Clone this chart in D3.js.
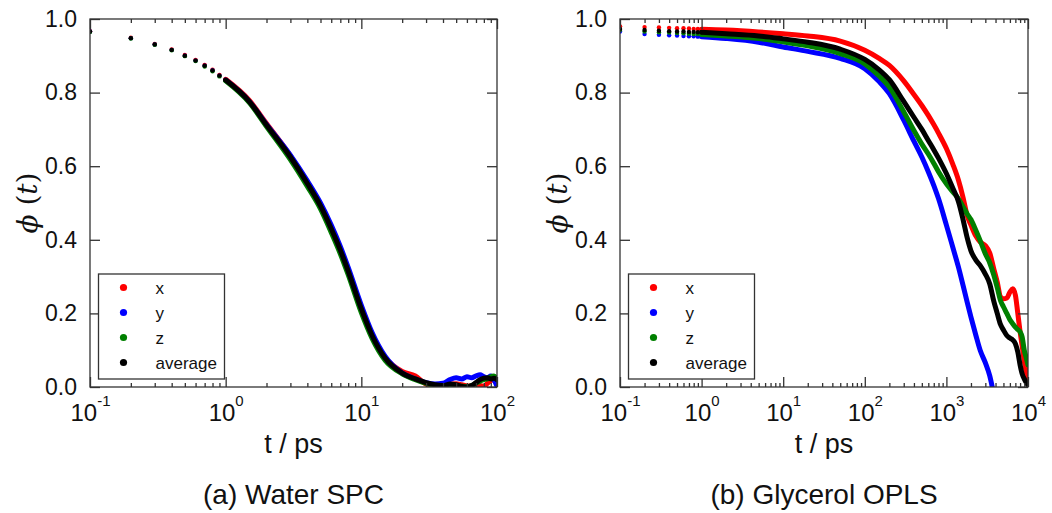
<!DOCTYPE html>
<html>
<head>
<meta charset="utf-8">
<script src="https://cdnjs.cloudflare.com/ajax/libs/d3/7.8.5/d3.min.js"></script>
<style>
body { margin: 0; background: #fff; }
svg text { font-family: "Liberation Sans", Arial, sans-serif; fill: #111; }
</style>
</head>
<body>
<svg id="chart" width="1052" height="513"></svg>
<script>
// series in legend order
let seriesNames = ['x', 'y', 'z', 'average'];
let seriesColors = ['#ff0000', '#0000ff', '#008000', '#000000'];

// (a) water SPC, time in ps
let waterT = [0.1,0.2,0.3,0.4,0.5,0.6,0.7,0.8,0.9,1.0,1.5,2,3,4,5,6,7,8,10,12,15,20,25,30,35,40,45,50,55,60,65,70,75,80,85,90,95,100];
let waterX = [0.967,0.949,0.932,0.917,0.902,0.889,0.875,0.862,0.848,0.836,0.778,0.716,0.628,0.555,0.493,0.431,0.372,0.314,0.210,0.139,0.080,0.042,0.030,0.008,0.004,0.006,0.008,0.009,0.006,0.003,0.002,0.000,0.004,0.002,0.010,0.018,0.020,0.015];
let waterY = [0.966,0.948,0.931,0.916,0.900,0.887,0.873,0.860,0.846,0.834,0.775,0.713,0.630,0.560,0.500,0.440,0.382,0.325,0.222,0.148,0.083,0.038,0.022,0.012,0.008,0.010,0.020,0.025,0.022,0.028,0.025,0.030,0.033,0.028,0.025,0.030,0.020,0.002];
let waterZ = [0.965,0.947,0.930,0.915,0.899,0.886,0.871,0.858,0.844,0.832,0.772,0.708,0.618,0.545,0.484,0.420,0.362,0.305,0.202,0.132,0.072,0.036,0.020,0.010,0.004,0.003,0.004,0.004,0.002,0.001,0.004,0.010,0.016,0.020,0.022,0.028,0.030,0.022];
let waterAvg = [0.966,0.948,0.931,0.916,0.900,0.887,0.873,0.860,0.846,0.834,0.775,0.712,0.625,0.553,0.492,0.430,0.372,0.315,0.212,0.140,0.078,0.038,0.022,0.012,0.006,0.004,0.008,0.006,0.002,0.000,0.004,0.012,0.020,0.024,0.025,0.022,0.024,0.020];

// (b) glycerol OPLS
let glyT = [0.1,0.2,0.3,0.4,0.5,0.6,0.7,0.8,0.9,1,2,5,10,20,50,100,150,200,300,400,500,600,700,800,1000,1200,1400,1600,1800,2000,2300,2600,3000,3400,3800,4200,4600,5000,5500,6000,6500,7000,7500,8000,8500,9000,9500,10000];
let glyX = [0.980,0.978,0.977,0.976,0.975,0.975,0.974,0.973,0.973,0.972,0.970,0.965,0.960,0.954,0.940,0.915,0.893,0.874,0.832,0.795,0.765,0.738,0.713,0.690,0.648,0.605,0.563,0.515,0.465,0.440,0.410,0.394,0.384,0.364,0.322,0.285,0.245,0.240,0.242,0.258,0.267,0.250,0.200,0.150,0.110,0.070,0.040,0.010];
let glyY = [0.966,0.959,0.957,0.956,0.955,0.954,0.953,0.953,0.952,0.952,0.947,0.937,0.924,0.912,0.893,0.865,0.830,0.797,0.725,0.668,0.625,0.585,0.548,0.512,0.440,0.379,0.327,0.276,0.230,0.190,0.140,0.099,0.066,0.030,-0.020,null,null,null,null,null,null,null,null,null,null,null,null,null];
let glyZ = [0.970,0.966,0.964,0.963,0.962,0.961,0.960,0.959,0.959,0.958,0.954,0.947,0.938,0.927,0.906,0.878,0.845,0.815,0.748,0.697,0.660,0.633,0.608,0.585,0.552,0.530,0.512,0.490,0.470,0.455,0.425,0.397,0.362,0.337,0.305,0.270,0.235,0.218,0.200,0.183,0.172,0.163,0.156,0.150,0.135,0.100,0.080,0.060];
let glyAvg = [0.973,0.970,0.968,0.967,0.966,0.966,0.965,0.965,0.964,0.964,0.960,0.954,0.946,0.937,0.918,0.890,0.862,0.835,0.776,0.733,0.700,0.670,0.645,0.622,0.580,0.540,0.505,0.455,0.405,0.370,0.345,0.330,0.307,0.280,0.234,0.200,0.170,0.155,0.140,0.133,0.128,0.118,0.095,0.060,0.035,0.022,0.012,0.005];

let yTicks = [0, 0.2, 0.4, 0.6, 0.8, 1.0];

let svg = d3.select('#chart');
let plotTop = 19, plotBottom = 387;
let axisColor = '#333';

function drawPanel(p) {
    let x = d3.scaleLog().domain(p.xDomain).range([p.left, p.right]);
    let y = d3.scaleLinear().domain([0, 1]).range([plotBottom, plotTop]);
    let g = svg.append('g');

    let e0 = Math.round(Math.log10(p.xDomain[0])), e1 = Math.round(Math.log10(p.xDomain[1]));
    let decades = d3.range(e0, e1 + 1).map(e => Math.pow(10, e));
    let minors = [];
    d3.range(e0, e1).forEach(e => {
        for (let k = 2; k <= 9; k++) minors.push(k * Math.pow(10, e));
    });

    // data, clipped to the frame
    let clipId = 'clip-' + p.id;
    svg.append('clipPath').attr('id', clipId)
        .append('rect')
        .attr('x', p.left).attr('y', plotTop)
        .attr('width', p.right - p.left).attr('height', plotBottom - plotTop);
    let plot = g.append('g').attr('clip-path', `url(#${clipId})`);

    let line = d3.line()
        .defined(d => d[1] != null)
        .x(d => x(d[0]))
        .y(d => y(d[1]))
        .curve(d3.curveMonotoneX);

    p.series.forEach((vals, i) => {
        let pts = p.t.map((t, j) => [t, vals[j]]);
        // early samples are resolved as separate dots
        plot.append('g')
            .selectAll('circle')
            .data(pts.filter(d => d[0] <= 1 && d[1] != null))
            .enter().append('circle')
            .attr('cx', d => x(d[0]))
            .attr('cy', d => y(d[1]))
            .attr('r', 2.2)
            .attr('fill', seriesColors[i]);
        // later samples merge into a thick band
        plot.append('path')
            .datum(pts.filter(d => d[0] >= 1))
            .attr('d', line)
            .attr('fill', 'none')
            .attr('stroke', seriesColors[i])
            .attr('stroke-width', 5)
            .attr('stroke-linecap', 'round')
            .attr('stroke-linejoin', 'round');
    });

    // axes, ticks pointing inward on all four sides
    let style = sel => {
        sel.select('.domain').remove();
        sel.selectAll('.tick line').attr('stroke', axisColor).attr('stroke-width', 1.3);
    };

    let xb = g.append('g')
        .attr('transform', `translate(0, ${plotBottom})`)
        .call(d3.axisBottom(x).tickValues(decades).tickSizeInner(-10).tickSizeOuter(0).tickFormat(''))
        .call(style);
    xb.selectAll('.tick').each(function(d) {
        let t = d3.select(this).append('text')
            .attr('y', 34)
            .attr('text-anchor', 'middle')
            .attr('font-size', 24)
            .attr('fill', '#111');
        t.append('tspan').text('10');
        t.append('tspan')
            .attr('dy', -15)
            .attr('font-size', 15)
            .text(Math.round(Math.log10(d)));
    });
    g.append('g')
        .attr('transform', `translate(0, ${plotBottom})`)
        .call(d3.axisBottom(x).tickValues(minors).tickSizeInner(-4).tickSizeOuter(0).tickFormat(''))
        .call(style);
    g.append('g')
        .attr('transform', `translate(0, ${plotTop})`)
        .call(d3.axisTop(x).tickValues(decades).tickSizeInner(-10).tickSizeOuter(0).tickFormat(''))
        .call(style);
    g.append('g')
        .attr('transform', `translate(0, ${plotTop})`)
        .call(d3.axisTop(x).tickValues(minors).tickSizeInner(-4).tickSizeOuter(0).tickFormat(''))
        .call(style);

    let yl = g.append('g')
        .attr('transform', `translate(${p.left}, 0)`)
        .call(d3.axisLeft(y).tickValues(yTicks).tickSizeInner(-10).tickSizeOuter(0).tickPadding(13).tickFormat(d3.format('.1f')))
        .call(style);
    yl.attr('font-size', 23).attr('font-family', null);
    yl.selectAll('text').attr('fill', '#111');
    g.append('g')
        .attr('transform', `translate(${p.right}, 0)`)
        .call(d3.axisRight(y).tickValues(yTicks).tickSizeInner(-10).tickSizeOuter(0).tickFormat(''))
        .call(style);

    // frame
    g.append('rect')
        .attr('x', p.left).attr('y', plotTop)
        .attr('width', p.right - p.left).attr('height', plotBottom - plotTop)
        .attr('fill', 'none')
        .attr('stroke', axisColor)
        .attr('stroke-width', 1.3);

    // axis titles
    let cx = (p.left + p.right) / 2;
    g.append('text')
        .attr('x', cx).attr('y', 453)
        .attr('text-anchor', 'middle')
        .attr('font-size', 27)
        .text('t / ps');

    let yt = g.append('text')
        .attr('transform', `translate(${p.left - 53}, ${(plotTop + plotBottom) / 2}) rotate(-90)`)
        .attr('text-anchor', 'middle')
        .style('font-family', '"DejaVu Serif", "Liberation Serif", serif')
        .attr('font-size', 28)
        .attr('fill', '#222');
    yt.append('tspan').attr('font-style', 'italic').text('ϕ');
    yt.append('tspan').text(' (');
    yt.append('tspan').attr('font-style', 'italic').text('t');
    yt.append('tspan').text(')');

    // caption
    g.append('text')
        .attr('x', cx).attr('y', 504)
        .attr('text-anchor', 'middle')
        .attr('font-size', 28)
        .text(p.caption);

    // legend
    let lx = p.left + 8.5, ly = 274;
    let leg = g.append('g');
    leg.append('rect')
        .attr('x', lx).attr('y', ly)
        .attr('width', 126).attr('height', 105)
        .attr('fill', '#fff')
        .attr('stroke', axisColor)
        .attr('stroke-width', 1.3);
    seriesNames.forEach((name, i) => {
        let ry = ly + 13.5 + i * 25;
        leg.append('circle')
            .attr('cx', lx + 25).attr('cy', ry)
            .attr('r', 3.6)
            .attr('fill', seriesColors[i]);
        leg.append('text')
            .attr('x', lx + 57).attr('y', ry + 6)
            .attr('font-size', 17)
            .text(name);
    });
}

drawPanel({
    id: 'a', left: 90, right: 497, xDomain: [0.1, 100],
    t: waterT, series: [waterX, waterY, waterZ, waterAvg],
    caption: '(a) Water SPC'
});
drawPanel({
    id: 'b', left: 620, right: 1028, xDomain: [0.1, 10000],
    t: glyT, series: [glyX, glyY, glyZ, glyAvg],
    caption: '(b) Glycerol OPLS'
});
</script>
</body>
</html>
